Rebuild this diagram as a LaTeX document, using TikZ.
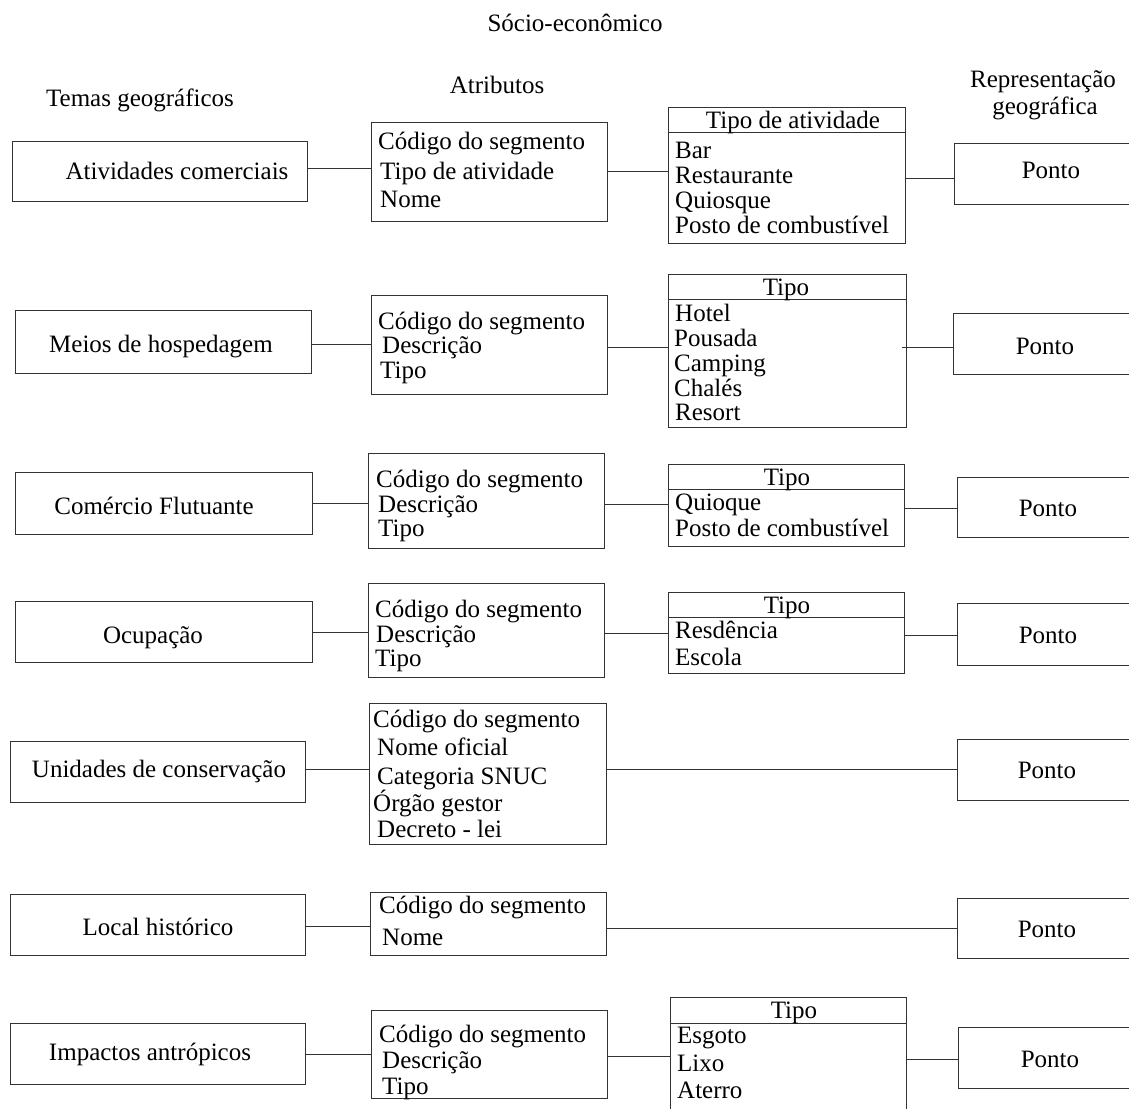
\documentclass[tikz,border=0pt]{standalone}
\usepackage{fontspec}
\setmainfont{Liberation Serif}
\tikzset{
  ln/.style={draw=black!80, line width=1pt},
  box/.style={ln, rectangle, inner sep=0pt},
  txt/.style={inner sep=0pt, anchor=base west, font=\fontsize{25}{25}\selectfont},
  ctr/.style={txt, anchor=base},
}
\newcommand\bx[5]{\node[box, minimum width={(#4-#2)*1pt}, minimum height={(#5-#3)*1pt}] (#1) at ({(#2+#4)/2},{(#3+#5)/2}) {};}
\newcommand\conn[3]{\draw[ln] (#1.east |- 0,#3) -- (#2.west |- 0,#3);}
\newcommand\hdr[2]{\draw[ln] (#1.west |- 0,#2) -- (#1.east |- 0,#2);}
\newcommand\lst[2]{\foreach \x/\y/\t [count=\i] in {#2} {\node[txt] (#1-\i) at (\x,\y) {\t};}}
\begin{document}
\begin{tikzpicture}[x=1pt,y=-1pt]
\useasboundingbox (0,0) rectangle (1129,1108);
% headers
\node[ctr] (h0) at (575,32) {Sócio-econômico};
\node[ctr] (h1) at (140,106) {Temas geográficos};
\node[ctr] (h2) at (497,93) {Atributos};
\node[ctr] (h3) at (1043,88) {Representação};
\node[ctr] (h4) at (1045,114) {geográfica};

% row 1
\bx{L1}{12}{141}{307}{201}
\bx{A1}{371}{122}{607}{221}
\bx{T1}{668}{107}{905}{243}
\bx{P1}{954}{143}{1135}{204}
\hdr{T1}{132}
\node[ctr] (l1) at (177,179) {Atividades comerciais};
\lst{a1}{378/149/Código do segmento, 380/179/Tipo de atividade, 380/207/Nome}
\node[ctr] (t1h) at (793,128) {Tipo de atividade};
\lst{t1}{675/158/Bar, 675/183/Restaurante, 675/208/Quiosque, 675/233/Posto de combustível}
\node[ctr] (p1) at (1051,178) {Ponto};
\conn{L1}{A1}{168}
\conn{A1}{T1}{171}
\conn{T1}{P1}{178}

% row 2
\bx{L2}{15}{310}{311}{373}
\bx{A2}{371}{295}{607}{394}
\bx{T2}{668}{274}{906}{427}
\bx{P2}{953}{313}{1135}{374}
\hdr{T2}{299}
\node[ctr] (l2) at (161,352) {Meios de hospedagem};
\lst{a2}{378/329/Código do segmento, 382/353/Descrição, 380/378/Tipo}
\node[ctr] (t2h) at (786,295) {Tipo};
\lst{t2}{675/321/Hotel, 674/346/Pousada, 674/371/Camping, 674/396/Chalés, 675/420/Resort}
\node[ctr] (p2) at (1045,354) {Ponto};
\conn{L2}{A2}{344}
\conn{A2}{T2}{347}
\draw[ln] (T2.east |- 0,347) ++(-5,0) -- (P2.west |- 0,347);

% row 3
\bx{L3}{15}{472}{312}{534}
\bx{A3}{368}{453}{604}{548}
\bx{T3}{668}{464}{904}{546}
\bx{P3}{957}{477}{1135}{537}
\hdr{T3}{489}
\node[ctr] (l3) at (154,514) {Comércio Flutuante};
\lst{a3}{376/487/Código do segmento, 378/512/Descrição, 378/536/Tipo}
\node[ctr] (t3h) at (787,485) {Tipo};
\lst{t3}{675/510/Quioque, 675/536/Posto de combustível}
\node[ctr] (p3) at (1048,516) {Ponto};
\conn{L3}{A3}{503}
\conn{A3}{T3}{504}
\conn{T3}{P3}{508}

% row 4
\bx{L4}{15}{601}{312}{662}
\bx{A4}{368}{583}{604}{677}
\bx{T4}{668}{592}{904}{673}
\bx{P4}{957}{603}{1135}{665}
\hdr{T4}{617}
\node[ctr] (l4) at (153,643) {Ocupação};
\lst{a4}{375/617/Código do segmento, 376/642/Descrição, 375/666/Tipo}
\node[ctr] (t4h) at (787,613) {Tipo};
\lst{t4}{675/638/Resdência, 675/665/Escola}
\node[ctr] (p4) at (1048,643) {Ponto};
\conn{L4}{A4}{632}
\conn{A4}{T4}{633}
\conn{T4}{P4}{635}

% row 5
\bx{L5}{10}{741}{305}{802}
\bx{A5}{369}{703}{606}{844}
\bx{P5}{957}{739}{1135}{800}
\node[ctr] (l5) at (159,777) {Unidades de conservação};
\lst{a5}{373/727/Código do segmento, 377/755/Nome oficial, 377/784/Categoria SNUC, 373/811/Órgão gestor, 377/837/Decreto - lei}
\node[ctr] (p5) at (1047,778) {Ponto};
\conn{L5}{A5}{769}
\conn{A5}{P5}{769}

% row 6
\bx{L6}{10}{894}{305}{955}
\bx{A6}{370}{892}{606}{955}
\bx{P6}{957}{898}{1135}{958}
\node[ctr] (l6) at (158,935) {Local histórico};
\lst{a6}{379/913/Código do segmento, 382/945/Nome}
\node[ctr] (p6) at (1047,937) {Ponto};
\conn{L6}{A6}{926}
\conn{A6}{P6}{928}

% row 7
\bx{L7}{10}{1023}{305}{1084}
\bx{A7}{371}{1010}{607}{1098}
\bx{T7}{670}{997}{906}{1125}
\bx{P7}{958}{1027}{1135}{1088}
\hdr{T7}{1023}
\node[ctr] (l7) at (150,1060) {Impactos antrópicos};
\lst{a7}{379/1042/Código do segmento, 382/1068/Descrição, 382/1094/Tipo}
\node[ctr] (t7h) at (794,1018) {Tipo};
\lst{t7}{677/1043/Esgoto, 677/1071/Lixo, 677/1098/Aterro}
\node[ctr] (p7) at (1050,1067) {Ponto};
\conn{L7}{A7}{1054}
\conn{A7}{T7}{1056}
\conn{T7}{P7}{1059}
\end{tikzpicture}
\end{document}
